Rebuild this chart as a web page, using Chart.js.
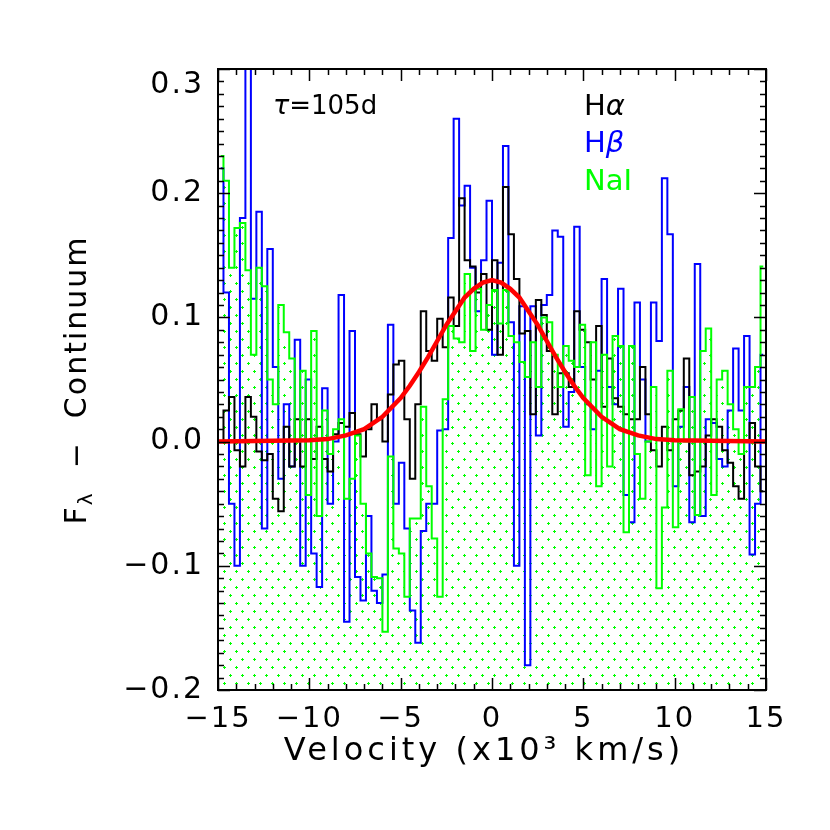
<!DOCTYPE html>
<html>
<head>
<meta charset="utf-8">
<script src="https://cdn.jsdelivr.net/npm/chart.js@4.4.1/dist/chart.umd.min.js"></script>
<style>
html, body { margin: 0; padding: 0; background: #fff; }
</style>
</head>
<body>
<canvas id="grafico" width="830" height="830"></canvas>
<script>
// bin centres (x10^3 km/s): first bin centre and bin width
const binStart = -14.85;
const binStep = 0.3;

// H-alpha, black
const haFlux = [
  0.000, 0.025, 0.036, -0.007, -0.020, 0.036, 0.020, -0.008, -0.015, -0.010,
  -0.046, -0.056, 0.012, -0.020, 0.018, -0.020, 0.018, -0.014, 0.012, -0.014,
  -0.024, 0.006, 0.015, 0.012, 0.023, 0.006, -0.012, 0.010, 0.030, 0.018,
  0.000, 0.038, 0.062, 0.065, 0.018, -0.030, 0.030, 0.105, 0.073, 0.065,
  0.099, 0.076, 0.116, 0.093, 0.196, 0.146, 0.141, 0.120, 0.135, 0.090,
  0.146, 0.070, 0.205, 0.167, 0.131, 0.087, 0.089, 0.022, 0.114, 0.102,
  0.073, 0.022, 0.055, 0.055, 0.044, 0.105, 0.090, 0.080, 0.050, 0.093,
  0.028, 0.067, 0.035, 0.028, 0.022, 0.018, 0.018, 0.060, 0.022, -0.007,
  -0.020, 0.012, -0.007, 0.018, 0.025, 0.067, -0.027, -0.024, -0.020, 0.005,
  0.018, 0.012, -0.007, -0.017, -0.036, -0.046, 0.000, 0.015, -0.020, -0.040
];

// H-beta, blue
const hbFlux = [
  0.220, 0.120, -0.050, -0.100, 0.180, 0.310, 0.115, 0.185, -0.070, 0.155,
  0.060, -0.030, 0.030, -0.020, 0.082, -0.100, 0.050, -0.090, -0.117, 0.043,
  -0.050, 0.000, 0.118, -0.145, 0.089, -0.109, -0.128, -0.060, -0.120, -0.130,
  -0.107, 0.094, -0.050, -0.017, -0.070, -0.136, -0.162, -0.072, -0.050, -0.050,
  0.009, 0.010, 0.164, 0.260, 0.190, 0.206, 0.140, 0.105, 0.146, 0.194,
  0.070, 0.144, 0.238, 0.096, -0.100, 0.109, -0.180, 0.109, 0.005, 0.110,
  0.118, 0.170, 0.165, 0.012, 0.040, 0.173, 0.060, 0.030, 0.010, 0.057,
  0.131, 0.044, 0.030, 0.123, -0.043, -0.065, 0.112, 0.050, 0.000, 0.112,
  0.081, 0.212, 0.167, -0.036, 0.012, 0.044, -0.065, 0.143, -0.060, 0.018,
  0.015, -0.014, -0.020, 0.025, 0.075, 0.025, 0.085, -0.091, -0.050, 0.070
];

// NaI, green
const naFlux = [
  0.230, 0.210, 0.140, 0.172, 0.176, 0.138, 0.070, 0.140, 0.125, 0.050,
  0.030, 0.110, 0.088, 0.067, 0.000, 0.057, -0.043, 0.089, -0.060, 0.025,
  -0.010, 0.010, 0.018, -0.046, -0.030, 0.005, -0.050, -0.090, -0.109, -0.110,
  -0.153, -0.012, -0.086, -0.090, -0.125, -0.062, -0.062, 0.028, -0.036, -0.078,
  -0.125, 0.034, 0.093, 0.083, 0.080, 0.135, 0.073, 0.123, 0.090, 0.110,
  0.122, 0.095, 0.122, 0.085, 0.080, 0.064, 0.052, 0.080, 0.044, 0.100,
  0.096, 0.070, 0.044, 0.077, 0.065, 0.060, 0.094, -0.027, 0.080, -0.036,
  0.070, -0.020, 0.085, 0.077, -0.073, 0.077, -0.010, -0.046, 0.000, 0.044,
  -0.118, -0.053, 0.057, -0.069, 0.026, 0.000, 0.036, -0.059, 0.073, 0.091,
  -0.043, 0.050, 0.057, 0.030, 0.010, -0.010, 0.044, 0.044, 0.060, 0.141
];

// gaussian fit, red
const fitVel = [-15, -10, -9, -8, -7, -6, -5, -4.5, -4, -3.5, -3, -2.5, -2, -1.5, -1, -0.5,
  0, 0.5, 1, 1.5, 2, 2.5, 3, 3.5, 4, 4.5, 5, 6, 7, 8, 9, 10, 15];
const fitFlux = [0, 0.001, 0.002, 0.005, 0.010, 0.020, 0.035, 0.045, 0.056, 0.068, 0.081, 0.094, 0.105, 0.116, 0.123, 0.128,
  0.130, 0.128, 0.123, 0.116, 0.105, 0.094, 0.081, 0.068, 0.056, 0.045, 0.035, 0.020, 0.010, 0.005, 0.002, 0.001, 0];

const xTicks = [-15, -10, -5, 0, 5, 10, 15];
const yTicks = [-0.2, -0.1, 0.0, 0.1, 0.2, 0.3];

const FONT = "'DejaVu Sans'";

function pontos(vals) {
  return vals.map((v, i) => ({ x: binStart + i * binStep, y: v }));
}

function menos(s) {
  return s.replace('-', '\u2212');
}

const canvas = document.getElementById('grafico');
const ctx = canvas.getContext('2d');

// green dotted fill under NaI
function pontilhado() {
  const c = document.createElement('canvas');
  c.width = 12; c.height = 16;
  const g = c.getContext('2d');
  g.fillStyle = '#00ff00';
  [[2, 3], [8, 11]].forEach(([x, y]) => {
    g.fillRect(x - 1, y, 3, 1);
    g.fillRect(x, y - 1, 1, 3);
  });
  return ctx.createPattern(c, 'repeat');
}

const molduraPlugin = {
  id: 'moldura',
  beforeDraw(chart) {
    chart.ctx.letterSpacing = '2px';
  },
  afterDraw(chart) {
    const c = chart.ctx;
    const a = chart.chartArea;
    const sx = chart.scales.x, sy = chart.scales.y;
    c.save();
    c.strokeStyle = '#000';
    c.lineWidth = 2;
    c.strokeRect(a.left, a.top, a.right - a.left, a.bottom - a.top);
    c.lineWidth = 1.5;
    c.beginPath();
    for (let v = -15; v <= 15; v++) {
      const px = Math.round(sx.getPixelForValue(v)) + 0.5;
      const len = v % 5 === 0 ? 12 : 6;
      c.moveTo(px, a.bottom); c.lineTo(px, a.bottom - len);
      c.moveTo(px, a.top); c.lineTo(px, a.top + len);
    }
    for (let k = -20; k <= 30; k++) {
      const py = Math.round(sy.getPixelForValue(k / 100)) + 0.5;
      const len = k % 10 === 0 ? 12 : 6;
      c.moveTo(a.left, py); c.lineTo(a.left + len, py);
      c.moveTo(a.right, py); c.lineTo(a.right - len, py);
    }
    c.stroke();
    c.restore();

    // x title
    c.save();
    c.fillStyle = '#000';
    c.textBaseline = 'middle';
    c.textAlign = 'center';
    c.letterSpacing = '4px';
    c.font = '32px ' + FONT;
    c.fillText('Velocity (x10\u00b3 km/s)', (a.left + a.right) / 2 - 8, 752);
    c.restore();

    // y title with subscript
    c.save();
    c.translate(78, 380);
    c.rotate(-Math.PI / 2);
    c.fillStyle = '#000';
    c.textBaseline = 'middle';
    c.letterSpacing = '2px';
    const big = '30px ' + FONT, small = '20px ' + FONT;
    c.font = big;
    const wF = c.measureText('F').width;
    const wR = c.measureText('  \u2212  Continuum').width;
    c.font = small;
    const wL = c.measureText('\u03bb').width;
    let x0 = -(wF + wL + wR) / 2;
    c.font = big; c.fillText('F', x0, 0);
    c.font = small; c.fillText('\u03bb', x0 + wF, 9);
    c.font = big; c.fillText('  \u2212  Continuum', x0 + wF + wL, 0);
    c.restore();

    // annotations
    c.save();
    c.textBaseline = 'middle';
    c.letterSpacing = '0px';
    const linhas = [
      { a: 'H', b: '\u03b1', cor: '#000000', y: 107 },
      { a: 'H', b: '\u03b2', cor: '#0000ff', y: 144 },
      { a: 'NaI', b: '', cor: '#00ff00', y: 182 }
    ];
    linhas.forEach(l => {
      c.fillStyle = l.cor;
      c.font = '29px ' + FONT;
      c.fillText(l.a, 584, l.y);
      const w = c.measureText(l.a).width;
      c.font = 'italic 29px ' + FONT;
      c.fillText(l.b, 584 + w, l.y);
    });
    c.fillStyle = '#000';
    c.font = 'italic 27px ' + FONT;
    c.fillText('\u03c4', 273, 107);
    const wt = c.measureText('\u03c4').width;
    c.font = '26px ' + FONT;
    c.fillText('=105d', 273 + wt, 107);
    c.restore();
  }
};

new Chart(canvas, {
  type: 'line',
  data: {
    datasets: [
      {
        label: 'fit',
        data: fitVel.map((v, i) => ({ x: v, y: fitFlux[i] })),
        borderColor: '#ff0000',
        borderWidth: 4.5,
        pointRadius: 0,
        fill: false,
        order: 0
      },
      {
        label: 'NaI',
        data: pontos(naFlux),
        borderColor: '#00ff00',
        borderWidth: 2,
        stepped: 'middle',
        pointRadius: 0,
        fill: 'start',
        backgroundColor: pontilhado(),
        order: 1
      },
      {
        label: 'H\u03b1',
        data: pontos(haFlux),
        borderColor: '#000000',
        borderWidth: 2,
        stepped: 'middle',
        pointRadius: 0,
        fill: false,
        order: 2
      },
      {
        label: 'H\u03b2',
        data: pontos(hbFlux),
        borderColor: '#0000ff',
        borderWidth: 2,
        stepped: 'middle',
        pointRadius: 0,
        fill: false,
        order: 3
      }
    ]
  },
  options: {
    responsive: false,
    animation: false,
    devicePixelRatio: 1,
    clip: 0,
    layout: { padding: { top: 69, right: 64, left: 0, bottom: 0 } },
    plugins: {
      legend: { display: false },
      tooltip: { enabled: false },
      filler: { drawTime: 'beforeDatasetsDraw' }
    },
    scales: {
      x: {
        type: 'linear',
        min: -15,
        max: 15,
        afterBuildTicks: s => { s.ticks = xTicks.map(v => ({ value: v })); },
        afterFit: s => { s.height = 140; },
        grid: { display: false, drawTicks: false },
        border: { display: false },
        ticks: {
          color: '#000',
          font: { family: FONT, size: 29 },
          padding: 12,
          maxRotation: 0,
          autoSkip: false,
          callback: v => menos(String(v))
        },
        title: { display: false }
      },
      y: {
        type: 'linear',
        min: -0.2,
        max: 0.3,
        afterBuildTicks: s => { s.ticks = yTicks.map(v => ({ value: v })); },
        afterFit: s => { s.width = 218; },
        grid: { display: false, drawTicks: false },
        border: { display: false },
        ticks: {
          color: '#000',
          font: { family: FONT, size: 30, lineHeight: 1.1 },
          padding: 14,
          autoSkip: false,
          // the top label sits just below the frame, as in the original
          callback: v => v >= 0.299 ? ['', menos(v.toFixed(1))] : menos(v.toFixed(1))
        }
      }
    }
  },
  plugins: [molduraPlugin]
});
</script>
</body>
</html>
